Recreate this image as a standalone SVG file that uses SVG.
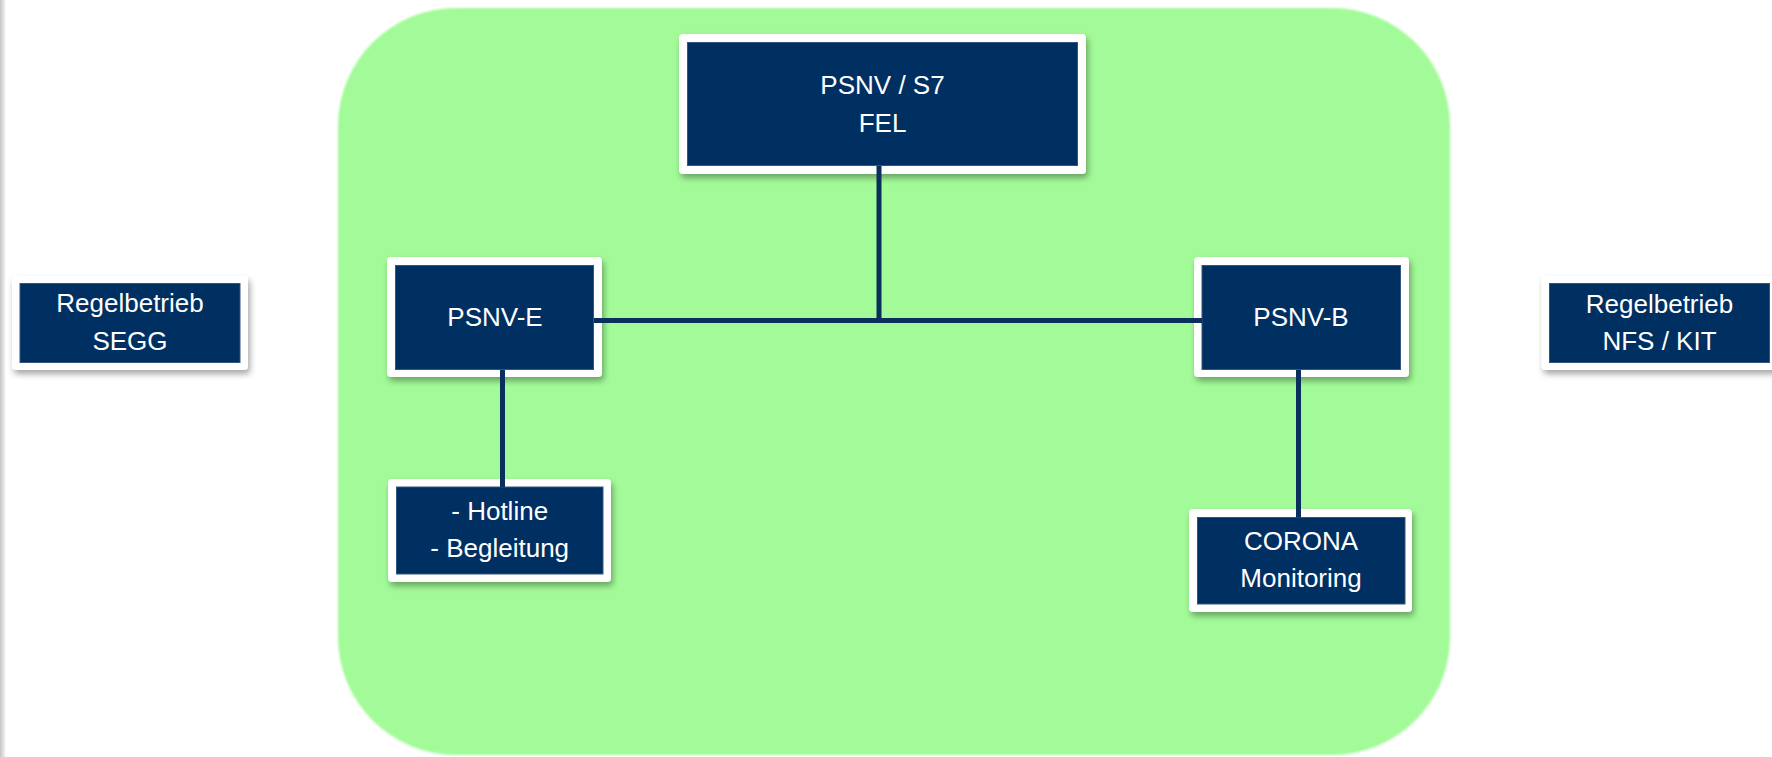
<svg xmlns="http://www.w3.org/2000/svg" width="1772" height="757" viewBox="0 0 1772 757">
<defs>
<linearGradient id="edge" x1="0" y1="0" x2="1" y2="0">
<stop offset="0" stop-color="#c4c4c4"/>
<stop offset="0.6" stop-color="#e4e4e4"/>
<stop offset="1" stop-color="#ffffff"/>
</linearGradient>
<filter id="soft" x="-2%" y="-2%" width="104%" height="104%">
<feGaussianBlur stdDeviation="1.2"/>
</filter>
<filter id="shadow" x="-10%" y="-10%" width="125%" height="130%">
<feDropShadow dx="2" dy="4" stdDeviation="3" flood-color="#000" flood-opacity="0.35"/>
</filter>
</defs>
<style>
.frame{fill:#ffffff;filter:url(#shadow);}
.box{fill:#003062;stroke:#34557f;stroke-width:1;}
.lbl{font-family:"Liberation Sans",Arial,sans-serif;font-size:26px;fill:#ffffff;text-anchor:middle;}
.con{stroke:#0b2f5c;stroke-width:5;fill:none;}
</style>
<rect x="0" y="0" width="1772" height="757" fill="#ffffff"/>
<rect x="0" y="0" width="6" height="757" fill="url(#edge)"/>
<rect id="bg" x="338" y="8" width="1112" height="747" rx="118" ry="118" fill="#a2fb98" filter="url(#soft)"/>

<g id="n-fel">
<rect class="frame" x="679" y="34" width="407" height="140" rx="4"/>
<rect class="box" x="687.5" y="42.5" width="390" height="123"/>
<text class="lbl" x="882.5" y="94">PSNV / S7</text>
<text class="lbl" x="882.5" y="132">FEL</text>
</g>

<g id="n-psnve">
<rect class="frame" x="387" y="257" width="215" height="120" rx="4"/>
<rect class="box" x="395.5" y="265.5" width="198" height="104"/>
<text class="lbl" x="495" y="326">PSNV-E</text>
</g>

<g id="n-psnvb">
<rect class="frame" x="1194" y="257" width="215" height="120" rx="4"/>
<rect class="box" x="1202" y="265.5" width="198.5" height="104"/>
<text class="lbl" x="1301" y="326">PSNV-B</text>
</g>

<g id="n-hotline">
<rect class="frame" x="388" y="479" width="223" height="103" rx="4"/>
<rect class="box" x="396.5" y="487" width="206.5" height="87"/>
<text class="lbl" x="499.7" y="520">- Hotline</text>
<text class="lbl" x="499.7" y="557">- Begleitung</text>
</g>

<g id="n-corona">
<rect class="frame" x="1189" y="509" width="223" height="103" rx="4"/>
<rect class="box" x="1197.5" y="517.5" width="207.5" height="86.5"/>
<text class="lbl" x="1301" y="550">CORONA</text>
<text class="lbl" x="1301" y="587">Monitoring</text>
</g>

<g id="n-segg">
<rect class="frame" x="12" y="276" width="236" height="94" rx="4"/>
<rect class="box" x="20" y="283.5" width="220" height="79"/>
<text class="lbl" x="130" y="312">Regelbetrieb</text>
<text class="lbl" x="130" y="349.5">SEGG</text>
</g>

<g id="n-nfs">
<rect class="frame" x="1541.5" y="276" width="240" height="94" rx="4"/>
<rect class="box" x="1549.5" y="283.5" width="220" height="79"/>
<text class="lbl" x="1659.5" y="312.5">Regelbetrieb</text>
<text class="lbl" x="1659.5" y="350">NFS / KIT</text>
</g>

<g id="connectors">
<line class="con" x1="594" y1="320.5" x2="1202" y2="320.5"/>
<line class="con" x1="879" y1="166" x2="879" y2="320.5"/>
<line class="con" x1="502.5" y1="370" x2="502.5" y2="487"/>
<line class="con" x1="1298.5" y1="370" x2="1298.5" y2="517.5"/>
</g>
</svg>
